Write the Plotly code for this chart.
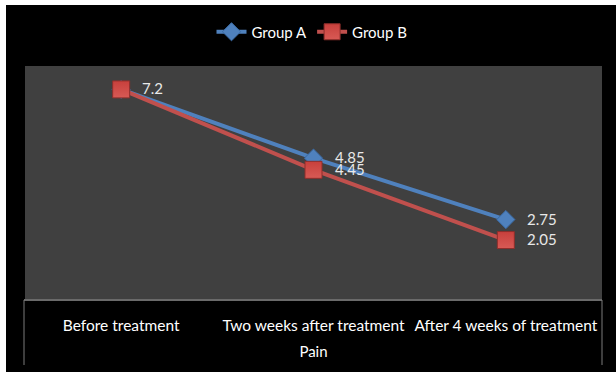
import plotly.graph_objects as go

categories = ["Before treatment", "Two weeks after treatment", "After 4 weeks of treatment"]
group_a = [7.2, 4.85, 2.75]
group_b = [7.2, 4.45, 2.05]
labels_a = ["", "4.85", "2.75"]
labels_b = ["7.2", "4.45", "2.05"]
axis_title = "Pain"

W, H = 616, 372
ML, MR, MT, MB = 25, 14, 66, 72
PW = W - ML - MR
PH = H - MT - MB

def px_x(px):
    return (px - ML) / PW

def px_y(py):
    return (H - MB - py) / PH

FONT = "Lato"
BLUE = "#4F81BD"
RED = "#C0504D"

fig = go.Figure()
fig.add_trace(go.Scatter(
    x=categories, y=group_a, name="Group A", mode="lines+markers",
    line=dict(color=BLUE, width=4),
    marker=dict(symbol="diamond", size=14, color=BLUE, line=dict(color="#3a6aa3", width=1)),
))
fig.add_trace(go.Scatter(
    x=categories, y=group_b, name="Group B", mode="lines+markers",
    line=dict(color=RED, width=4),
    marker=dict(symbol="square", size=17, color="#c8403c",
                gradient=dict(type="vertical", color="#d85a55"),
                line=dict(color="#8e2e2b", width=1)),
))

annotations = []
for xs, ys, ls in [(categories, group_a, labels_a), (categories, group_b, labels_b)]:
    for xv, yv, lab in zip(xs, ys, ls):
        if lab:
            annotations.append(dict(
                x=xv, y=yv, xref="x", yref="y", text=lab, showarrow=False,
                xanchor="left", yanchor="middle", xshift=19, yshift=1,
                font=dict(color="#e8e8e8", size=15, family=FONT),
            ))

shapes = [
    dict(type="rect", xref="paper", yref="paper", x0=px_x(0), x1=px_x(6), y0=px_y(H), y1=px_y(0),
         fillcolor="white", line=dict(width=0), layer="above"),
    dict(type="rect", xref="paper", yref="paper", x0=px_x(0), x1=px_x(W), y0=px_y(5), y1=px_y(0),
         fillcolor="white", line=dict(width=0), layer="above"),
    dict(type="line", xref="paper", yref="paper", x0=px_x(24), x1=px_x(602), y0=0, y1=0,
         line=dict(color="#6a6a6a", width=2), layer="above"),
    dict(type="line", xref="paper", yref="paper", x0=px_x(24), x1=px_x(24), y0=0, y1=px_y(365),
         line=dict(color="#7a7a7a", width=1), layer="above"),
    dict(type="line", xref="paper", yref="paper", x0=px_x(602), x1=px_x(602), y0=0, y1=px_y(365),
         line=dict(color="#7a7a7a", width=1), layer="above"),
]

fig.update_layout(
    width=W, height=H,
    margin=dict(l=ML, r=MR, t=MT, b=MB, pad=0),
    paper_bgcolor="black",
    plot_bgcolor="#404040",
    font=dict(family=FONT, color="white", size=15),
    showlegend=True,
    legend=dict(orientation="h", x=px_x(312), xanchor="center", y=px_y(32), yanchor="middle",
                font=dict(color="white", size=15, family=FONT), bgcolor="rgba(0,0,0,0)",
                itemwidth=30),
    shapes=shapes,
    annotations=annotations,
    xaxis=dict(
        range=[-0.5, 2.5], showgrid=False, zeroline=False, showline=False,
        ticks="outside", ticklen=11, tickcolor="rgba(0,0,0,0)",
        tickfont=dict(color="white", size=15.5, family=FONT),
        title=dict(text=axis_title, font=dict(color="white", size=15, family=FONT), standoff=13),
        fixedrange=True,
    ),
    yaxis=dict(range=[0, 8], showgrid=False, zeroline=False, showline=False,
               showticklabels=False, ticks="", fixedrange=True),
)

fig.write_html("out.html")
